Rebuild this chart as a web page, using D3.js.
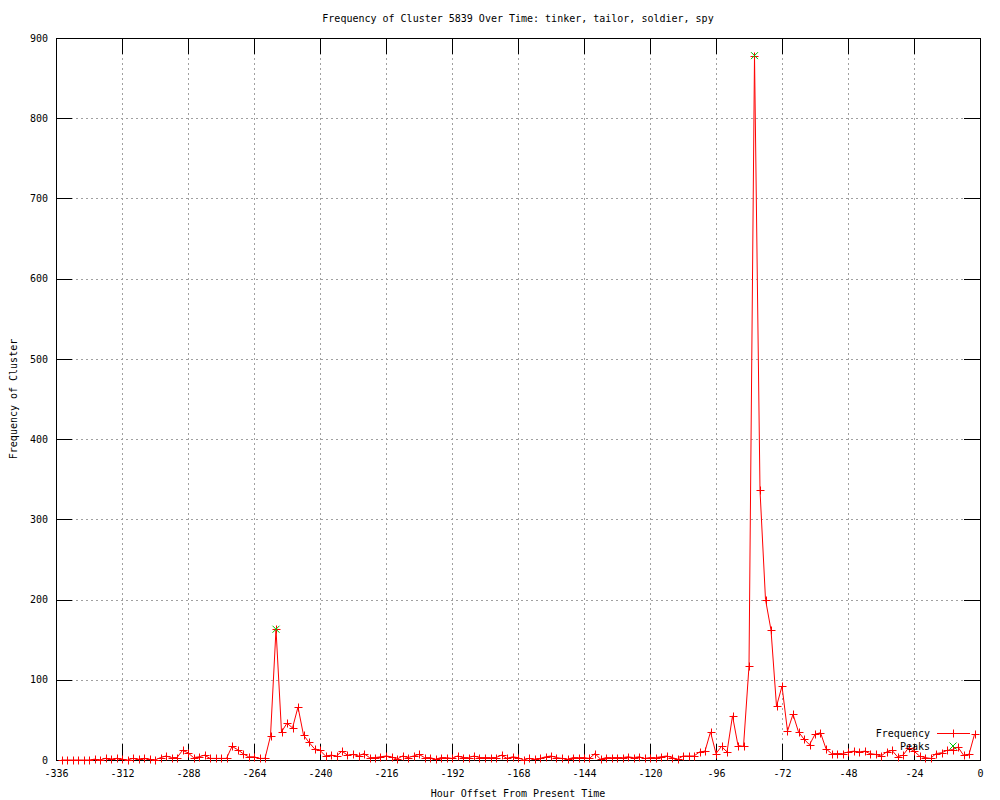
<!DOCTYPE html>
<html>
<head>
<meta charset="utf-8">
<script src="https://cdn.jsdelivr.net/npm/d3@7"></script>
<style>
  html, body { margin: 0; padding: 0; background: #fff; }
  text { font-family: "DejaVu Sans Mono", "Liberation Mono", monospace; font-size: 10px; fill: #000; }
</style>
</head>
<body>
<svg id="chart" width="1000" height="800"></svg>
<script>
// ---- data ----
const hours = [
  -334,-332,-330,-328,-326,-324,-322,-320,-318,-316,-314,-312,-310,-308,-306,-304,-302,-300,-298,-296,
  -294,-292,-290,-288,-286,-284,-282,-280,-278,-276,-274,-272,-270,-268,-266,-264,-262,-260,-258,-256,
  -254,-252,-250,-248,-246,-244,-242,-240,-238,-236,-234,-232,-230,-228,-226,-224,-222,-220,-218,-216,
  -214,-212,-210,-208,-206,-204,-202,-200,-198,-196,-194,-192,-190,-188,-186,-184,-182,-180,-178,-176,
  -174,-172,-170,-168,-166,-164,-162,-160,-158,-156,-154,-152,-150,-148,-146,-144,-142,-140,-138,-136,
  -134,-132,-130,-128,-126,-124,-122,-120,-118,-116,-114,-112,-110,-108,-106,-104,-102,-100,-98,-96,
  -94,-92,-90,-88,-86,-84,-82,-80,-78,-76,-74,-72,-70,-68,-66,-64,-62,-60,-58,-56,
  -54,-52,-50,-48,-46,-44,-42,-40,-38,-36,-34,-32,-30,-28,-26,-24,-22,-20,-18,-16,
  -14,-12,-10,-8,-6,-4,-2
];
const frequency = [
  0,0,0,0,0,0,1,0,2,1,2,1,0,2,1,2,1,0,3,5,
  3,3,12,9,3,4,6,2,2,2,2,17,13,8,4,4,2,2,30,163,
  35,46,40,66,31,22,14,12,5,6,5,11,6,7,5,8,3,3,4,5,
  4,1,5,3,5,7,3,3,1,3,3,2,5,3,3,5,3,3,3,3,
  6,2,4,3,0,2,1,2,4,5,3,2,1,3,3,3,2,8,1,3,
  3,3,3,4,3,4,2,3,3,4,5,3,1,5,5,5,10,11,35,8,
  17,10,55,18,17,117,878,336,200,162,67,92,36,57,35,26,19,32,34,14,
  8,8,8,10,11,10,11,8,7,5,10,12,4,6,15,11,5,3,2,8,
  9,12,13,16,6,7,32
];
const peakHours = [-256, -82];
const peakValues = [163, 878];
const xTicks = [-336,-312,-288,-264,-240,-216,-192,-168,-144,-120,-96,-72,-48,-24,0];
const yTicks = [0,100,200,300,400,500,600,700,800,900];
const titleText = "Frequency of Cluster 5839 Over Time: tinker, tailor, soldier, spy";
const xLabel = "Hour Offset From Present Time";
const yLabel = "Frequency of Cluster";
const legendNames = ["Frequency", "Peaks"];

// ---- layout ----
const L = 56, R = 980, T = 38, B = 760;
const svg = d3.select("#chart");
const x = d3.scaleLinear().domain([-336, 0]).range([L, R]);
const y = d3.scaleLinear().domain([0, 900]).range([B, T]);
const fmt = d => String(d);

// grid
const grid = svg.append("g").attr("shape-rendering", "crispEdges");
grid.selectAll(".gx").data(xTicks.filter(d => d !== -336 && d !== 0)).join("line")
  .attr("x1", d => x(d) + 0.5).attr("x2", d => x(d) + 0.5)
  .attr("y1", T).attr("y2", B)
  .attr("stroke", "#a0a0a0").attr("stroke-dasharray", "2,3");
grid.selectAll(".gy").data(yTicks.filter(d => d !== 0 && d !== 900)).join("line")
  .attr("x1", L).attr("x2", R)
  .attr("y1", d => y(d) + 0.5).attr("y2", d => y(d) + 0.5)
  .attr("stroke", "#a0a0a0").attr("stroke-dasharray", "2,3");

// axes (inward ticks, mirrored)
function styleAxis(g) {
  g.select(".domain").remove();
  g.selectAll("line").attr("stroke", "#000").attr("shape-rendering", "crispEdges");
  g.selectAll("text").attr("font-family", null).attr("font-size", null).style("fill", "#000");
}
svg.append("g").attr("transform", `translate(0,${B})`)
  .call(d3.axisBottom(x).tickValues(xTicks).tickSize(-16).tickPadding(10).tickFormat(fmt))
  .call(styleAxis);
svg.append("g").attr("transform", `translate(0,${T})`)
  .call(d3.axisTop(x).tickValues(xTicks).tickSize(-16).tickFormat(""))
  .call(styleAxis);
svg.append("g").attr("transform", `translate(${L},0)`)
  .call(d3.axisLeft(y).tickValues(yTicks).tickSize(-16).tickPadding(8).tickFormat(fmt))
  .call(styleAxis);
svg.append("g").attr("transform", `translate(${R},0)`)
  .call(d3.axisRight(y).tickValues(yTicks).tickSize(-16).tickFormat(""))
  .call(styleAxis);

// border
svg.append("rect").attr("x", L + 0.5).attr("y", T + 0.5)
  .attr("width", R - L).attr("height", B - T)
  .attr("fill", "none").attr("stroke", "#000").attr("shape-rendering", "crispEdges");

// data line
const pts = hours.map((h, i) => [h, frequency[i]]);
const line = d3.line().x(d => x(d[0])).y(d => y(d[1]));
svg.append("path").datum(pts).attr("d", line)
  .attr("fill", "none").attr("stroke", "#ff0000").attr("stroke-width", 1);

// plus markers
const s = 4;
svg.append("g").selectAll("path").data(pts).join("path")
  .attr("d", d => { const cx = Math.round(x(d[0])) + 0.5, cy = Math.round(y(d[1])) + 0.5;
    return `M${cx - s},${cy}H${cx + s}M${cx},${cy - s}V${cy + s}`; })
  .attr("stroke", "#ff0000").attr("stroke-width", 1).attr("fill", "none");

// peaks (green x)
const k = 3.5;
const peaks = peakHours.map((h, i) => [h, peakValues[i]]);
svg.append("g").selectAll("path").data(peaks).join("path")
  .attr("d", d => { const cx = x(d[0]), cy = y(d[1]);
    return `M${cx - k},${cy - k}L${cx + k},${cy + k}M${cx - k},${cy + k}L${cx + k},${cy - k}`; })
  .attr("stroke", "#00c000").attr("stroke-width", 1).attr("fill", "none");

// legend
const lg = svg.append("g");
lg.append("text").attr("x", 930).attr("y", 737).attr("text-anchor", "end").text(legendNames[0]);
lg.append("line").attr("x1", 937).attr("x2", 970).attr("y1", 733.5).attr("y2", 733.5)
  .attr("stroke", "#ff0000").attr("shape-rendering", "crispEdges");
lg.append("path").attr("d", `M${953.5 - s},733.5H${953.5 + s}M953.5,${733.5 - s}V${733.5 + s}`)
  .attr("stroke", "#ff0000").attr("fill", "none");
lg.append("text").attr("x", 930).attr("y", 750).attr("text-anchor", "end").text(legendNames[1]);
lg.append("path").attr("d", `M${953 - k},${746 - k}L${953 + k},${746 + k}M${953 - k},${746 + k}L${953 + k},${746 - k}`)
  .attr("stroke", "#00c000").attr("fill", "none");

// titles
svg.append("text").attr("x", 518).attr("y", 22).attr("text-anchor", "middle").text(titleText);
svg.append("text").attr("x", 518).attr("y", 797).attr("text-anchor", "middle").text(xLabel);
svg.append("text").attr("transform", "translate(17,399) rotate(-90)").attr("text-anchor", "middle").text(yLabel);
</script>
</body>
</html>
